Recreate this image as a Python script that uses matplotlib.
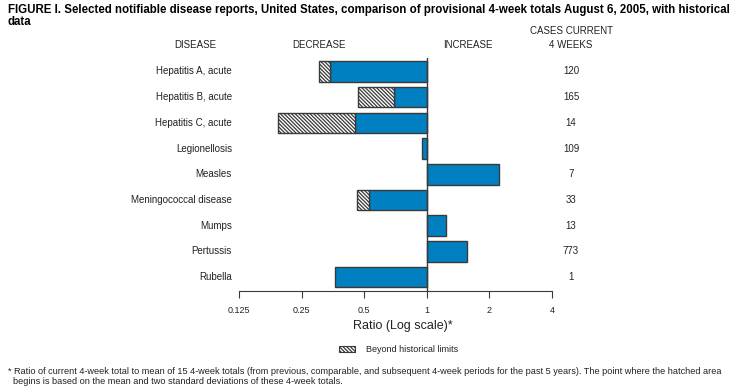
import numpy as np
import matplotlib
matplotlib.use("Agg")
import matplotlib.pyplot as plt
from matplotlib.patches import Rectangle

plt.rcParams['font.family'] = ['Liberation Sans', 'DejaVu Sans']
plt.rcParams['hatch.linewidth'] = 0.9

# data
diseases = ["Hepatitis A, acute", "Hepatitis B, acute", "Hepatitis C, acute",
            "Legionellosis", "Measles", "Meningococcal disease", "Mumps",
            "Pertussis", "Rubella"]
ratio = [0.302, 0.467, 0.192, 0.949, 2.23, 0.46, 1.24, 1.56, 0.362]
# where the hatched part starts (None = no hatched part)
hist_limit = [0.344, 0.696, 0.453, None, None, 0.527, None, None, None]
cases = [120, 165, 14, 109, 7, 33, 13, 773, 1]
ticks = [0.125, 0.25, 0.5, 1, 2, 4]
tick_labels = ["0.125", "0.25", "0.5", "1", "2", "4"]

W, H = 738, 390
blue = "#0080c0"
edge = "#3a3a3a"
txt = "#222222"
hatch = "\\" * 9

fig = plt.figure(figsize=(W / 100, H / 100), dpi=100)

def fx(x):
    return x / W

def fy(y):
    return 1 - y / H

ax = fig.add_axes([fx(239), fy(291), fx(552) - fx(239), fy(58) - fy(291)])
ax.set_xscale("log", base=2)
ax.set_xlim(0.125, 4)
ax.set_ylim(8.54, -0.525)

ypos = np.arange(len(diseases))
for i in range(len(diseases)):
    r = ratio[i]
    lim = hist_limit[i]
    if lim is None:
        lo, hi = min(r, 1), max(r, 1)
        ax.barh(ypos[i], hi - lo, left=lo, height=0.8, color=blue,
                edgecolor=edge, linewidth=1.0, zorder=2)
    else:
        ax.barh(ypos[i], 1 - lim, left=lim, height=0.8, color=blue,
                edgecolor=edge, linewidth=1.0, zorder=2)
        ax.barh(ypos[i], lim - r, left=r, height=0.8, color="white",
                edgecolor=edge, hatch=hatch, linewidth=1.0, zorder=2)

ax.axvline(1, color=edge, linewidth=1.0, zorder=3)
for s in ["top", "right", "left"]:
    ax.spines[s].set_visible(False)
ax.spines["bottom"].set_color(edge)
ax.set_yticks([])
ax.set_xticks(ticks)
ax.set_xticklabels(tick_labels)
ax.minorticks_off()
ax.tick_params(axis="x", direction="out", length=5, color=edge, labelsize=6.5,
               labelcolor=txt, pad=6)

# disease labels and case counts
for i in range(len(diseases)):
    yy = ax.transData.transform((1, ypos[i]))[1] / H
    fig.text(fx(232), yy, diseases[i], ha="right", va="center", fontsize=7, color=txt)
    fig.text(fx(571), yy, str(cases[i]), ha="center", va="center", fontsize=7, color=txt)

# title
narrow = ["Liberation Sans Narrow", "Liberation Sans", "DejaVu Sans"]
fig.text(fx(8), fy(10), "FIGURE I. Selected notifiable disease reports, United States, comparison of "
         "provisional 4-week totals August 6, 2005, with historical",
         ha="left", va="center", fontsize=8.3, fontweight="bold", color="black", family=narrow)
fig.text(fx(8), fy(22), "data", ha="left", va="center", fontsize=8.3, fontweight="bold",
         color="black", family=narrow)

# column headers
fig.text(fx(195), fy(45), "DISEASE", ha="center", va="center", fontsize=7, color=txt)
fig.text(fx(319), fy(45), "DECREASE", ha="center", va="center", fontsize=7, color=txt)
fig.text(fx(468), fy(45), "INCREASE", ha="center", va="center", fontsize=7, color=txt)
fig.text(fx(571), fy(31), "CASES CURRENT", ha="center", va="center", fontsize=7, color=txt)
fig.text(fx(571), fy(45), "4 WEEKS", ha="center", va="center", fontsize=7, color=txt)

# axis title
fig.text(fx(403), fy(326), "Ratio (Log scale)*", ha="center", va="center", fontsize=9, color=txt)

# legend
fig.patches.append(Rectangle((fx(339), fy(352)), fx(16), fy(346) - fy(352),
                             transform=fig.transFigure, facecolor="white",
                             edgecolor=edge, hatch=hatch, linewidth=0.8))
fig.text(fx(366), fy(349), "Beyond historical limits", ha="left", va="center",
         fontsize=6.5, color=txt)

# footnote
fig.text(fx(8), fy(371), "* Ratio of current 4-week total to mean of 15 4-week totals (from previous, "
         "comparable, and subsequent 4-week periods for the past 5 years). The point where the hatched area",
         ha="left", va="center", fontsize=6.6, color=txt)
fig.text(fx(13), fy(381), "begins is based on the mean and two standard deviations of these 4-week totals.",
         ha="left", va="center", fontsize=6.6, color=txt)

fig.savefig("out.png", dpi=100)
